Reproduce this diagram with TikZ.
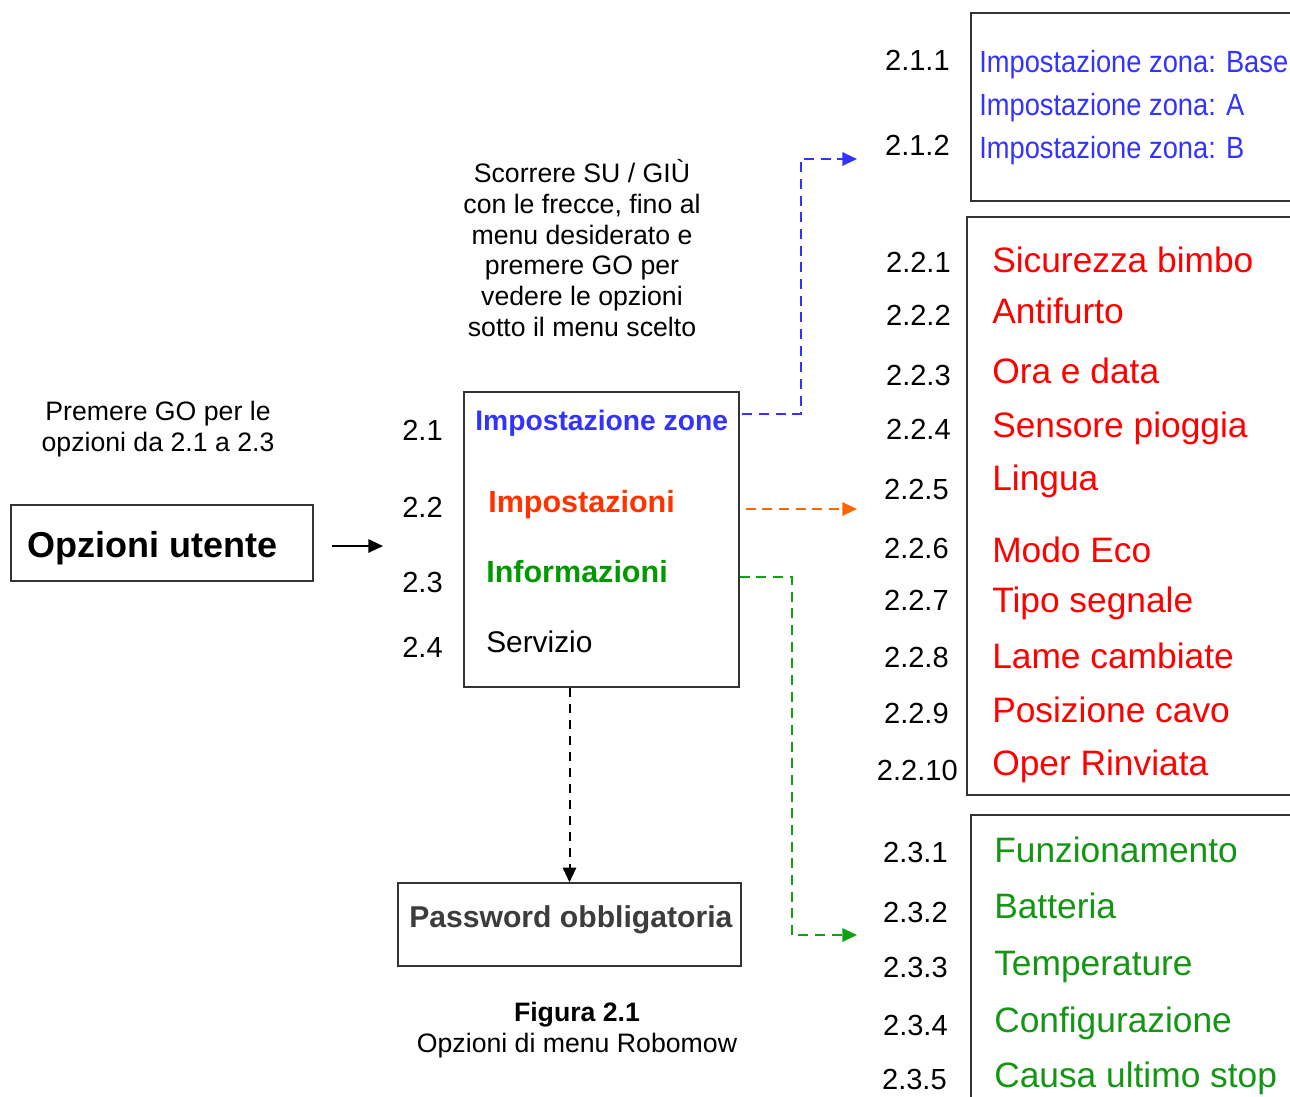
\documentclass[tikz,border=0pt]{standalone}
\usepackage{fontspec}
\setmainfont{Liberation Sans}
\newfontfamily\narrowsans[FakeStretch=0.89]{Liberation Sans}
\usetikzlibrary{arrows.meta,fit}

\definecolor{boxgray}{HTML}{333333}
\definecolor{zoneblue}{HTML}{3333FF}
\definecolor{setred}{HTML}{FF0000}
\definecolor{impsorange}{HTML}{FF3300}
\definecolor{linkorange}{HTML}{FF6600}
\definecolor{infogreen}{HTML}{009900}
\definecolor{itemgreen}{HTML}{149614}
\definecolor{linkgreen}{HTML}{11A011}
\definecolor{pwgray}{HTML}{3C3C3C}

\begin{document}
\begin{tikzpicture}[x=0.75pt,y=-0.75pt,
  box/.style={draw=boxgray, line width=1.1pt, inner sep=0pt},
  plain/.style={inner sep=0pt, anchor=base west},
  mlbl/.style={plain, font=\fontsize{21.8}{26}\selectfont},
  rlbl/.style={inner sep=0pt, anchor=base east, font=\fontsize{21.8}{26}\selectfont},
  ritem/.style={plain, text=setred, font=\fontsize{26.5}{30}\selectfont},
  gitem/.style={plain, text=itemgreen, font=\fontsize{26.5}{30}\selectfont},
  bitem/.style={plain, text=zoneblue, font=\narrowsans\fontsize{23}{27}\selectfont},
  note/.style={inner sep=0pt, align=center, font=\fontsize{20}{23}\selectfont},
  tip/.style={-{Triangle[length=11pt,width=10pt]}},
  link/.style={line width=1.5pt, dash pattern=on 7.5pt off 5pt, tip},
]
\clip (0,0) rectangle (1290,1097);

% ---- entry box ----
\node[box, fit={(11,505) (313,581)}] (ou) {};
\node[plain, font=\bfseries\fontsize{27}{32}\selectfont] (outxt) at (27,557) {Opzioni utente};
\coordinate (intip) at (383,546);
\draw[line width=1.5pt, tip, shorten <=13.5pt] (ou.east |- intip) -- (intip);

% ---- notes ----
\node[note] (premi) at (158,429) {Premere GO per le\\opzioni da 2.1 a 2.3};
\node[note] (scroll) at (582,248) {Scorrere SU / GIÙ\\con le frecce, fino al\\menu desiderato e\\premere GO per\\vedere le opzioni\\sotto il menu scelto};

% ---- main menu ----
\node[box, fit={(464,392) (739,687)}] (menu) {};
\node[mlbl] (l21) at (402,440) {2.1};
\node[mlbl] (l22) at (402,517) {2.2};
\node[mlbl] (l23) at (402,592) {2.3};
\node[mlbl] (l24) at (402,657) {2.4};
\node[plain, text=zoneblue, font=\bfseries\fontsize{21.2}{25}\selectfont] (impz) at (475,430) {Impostazione zone};
\node[plain, text=impsorange, font=\bfseries\fontsize{22.9}{27}\selectfont] (imps) at (488,512) {Impostazioni};
\node[plain, text=infogreen, font=\bfseries\fontsize{22.9}{27}\selectfont] (info) at (486,582) {Informazioni};
\node[plain, font=\fontsize{22.4}{27}\selectfont] (serv) at (486,652) {Servizio};

% ---- password box ----
\node[box, fit={(398,883) (741,966)}] (pw) {};
\node[plain, text=pwgray, font=\bfseries\fontsize{22.6}{27}\selectfont] (pwtxt) at (409,927) {Password obbligatoria};
\draw[line width=1.5pt, dash pattern=on 7pt off 5pt, tip] (menu.south -| pw.north) -- (pw.north);

% ---- caption ----
\node[note] (caption) at (577,1030) {\textbf{Figura 2.1}\\Opzioni di menu Robomow};

% ---- submenu 2.1 ----
\node[box, fit={(971,13) (1300,201)}] (zbox) {};
\node[rlbl] (l211) at (950,70) {2.1.1};
\node[rlbl] (l212) at (950,155) {2.1.2};
\node[bitem] (z1) at (979,72) {Impostazione zona: Base};
\node[bitem] (z2) at (979,115) {Impostazione zona: A};
\node[bitem] (z3) at (979,158) {Impostazione zona: B};

% ---- submenu 2.2 ----
\node[box, fit={(967,217) (1300,795)}] (sbox) {};
\node[rlbl] (l221) at (951,272) {2.2.1};
\node[rlbl] (l222) at (951,325) {2.2.2};
\node[rlbl] (l223) at (951,385) {2.2.3};
\node[rlbl] (l224) at (951,439) {2.2.4};
\node[rlbl] (l225) at (949,499) {2.2.5};
\node[rlbl] (l226) at (949,558) {2.2.6};
\node[rlbl] (l227) at (949,610) {2.2.7};
\node[rlbl] (l228) at (949,667) {2.2.8};
\node[rlbl] (l229) at (949,723) {2.2.9};
\node[rlbl] (l2210) at (958,780) {2.2.10};
\node[ritem] (s1) at (992,272) {Sicurezza bimbo};
\node[ritem] (s2) at (992,323) {Antifurto};
\node[ritem] (s3) at (992,383) {Ora e data};
\node[ritem] (s4) at (992,437) {Sensore pioggia};
\node[ritem] (s5) at (992,490) {Lingua};
\node[ritem] (s6) at (992,562) {Modo Eco};
\node[ritem] (s7) at (992,612) {Tipo segnale};
\node[ritem] (s8) at (992,668) {Lame cambiate};
\node[ritem] (s9) at (992,722) {Posizione cavo};
\node[ritem] (s10) at (992,775) {Oper Rinviata};

% ---- submenu 2.3 ----
\node[box, fit={(971,815) (1300,1110)}] (ibox) {};
\node[rlbl] (l231) at (948,862) {2.3.1};
\node[rlbl] (l232) at (948,922) {2.3.2};
\node[rlbl] (l233) at (948,977) {2.3.3};
\node[rlbl] (l234) at (948,1035) {2.3.4};
\node[rlbl] (l235) at (947,1089) {2.3.5};
\node[gitem] (i1) at (994,862) {Funzionamento};
\node[gitem] (i2) at (994,918) {Batteria};
\node[gitem] (i3) at (994,975) {Temperature};
\node[gitem] (i4) at (994,1032) {Configurazione};
\node[gitem] (i5) at (994,1087) {Causa ultimo stop};

% ---- links from the main menu to the submenus ----
\coordinate (zS) at (menu.east |- 0,414);
\coordinate (sS) at (menu.east |- 0,509);
\coordinate (iS) at (menu.east |- 0,577);
\coordinate (zT) at (857,159);
\coordinate (sT) at (857,509);
\coordinate (iT) at (857,935);
\draw[link, zoneblue, shorten <=2pt] (zS) -- ++(61,0) |- (zT);
\draw[link, linkorange, shorten <=4.5pt] (sS) -- (sT);
\draw[link, linkgreen] (iS) -- ++(52,0) |- (iT);
\end{tikzpicture}
\end{document}
